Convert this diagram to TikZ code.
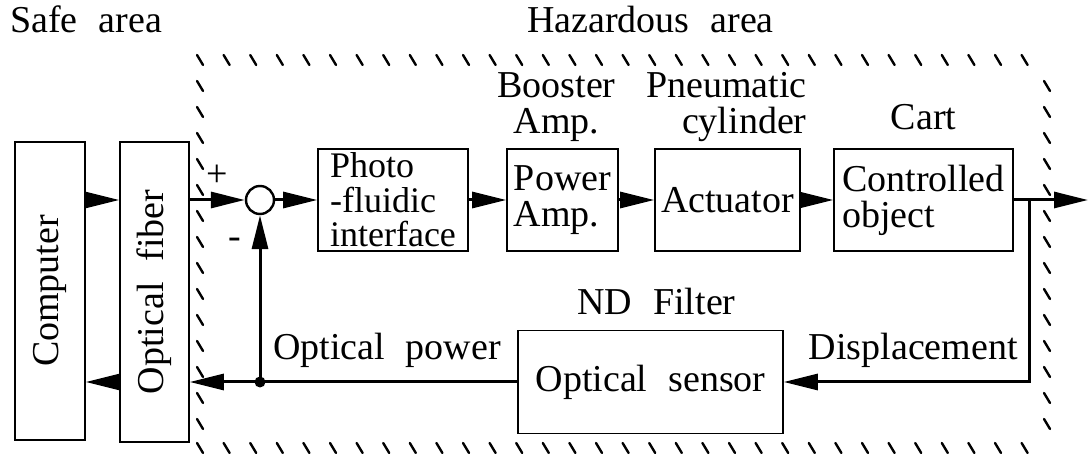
\documentclass[tikz,border=0pt]{standalone}
\usepackage{fontspec}
\setmainfont{Liberation Serif}
\usepackage{tikz}
\usetikzlibrary{arrows.meta}

\newcommand{\bigfont}{\fontsize{38}{36}\selectfont\spaceskip=0.55em\relax}
\newcommand{\tightfont}{\fontsize{36}{34.5}\selectfont}

\begin{document}
\begin{tikzpicture}[x=1pt,y=-1pt,font=\bigfont,
  >={Triangle[length=34pt,width=16pt]},
  blk/.style={draw,line width=1.6pt,inner sep=3pt,align=left},
  sig/.style={line width=3pt},
  hatch/.style={line width=2.4pt,line cap=round},
  lbl/.style={inner sep=0pt,align=center}]
\useasboundingbox (0,0) rectangle (1088,454);
% hazardous area boundary
\foreach \x in {200,226.6,...,1046} {
  \draw[hatch] (\x-3,55) -- (\x+3,65);
  \draw[hatch] (\x-3,443) -- (\x+3,453);
}
\foreach \y in {86,112,...,430} {
  \draw[hatch] (197,\y-5) -- (203,\y+5);
  \draw[hatch] (1044,\y-5) -- (1050,\y+5);
}
\node[lbl,anchor=base west] (safe) at (10,33) {Safe area};
\node[lbl,anchor=base west] (haz) at (527,33) {Hazardous area};
% blocks
\node[blk,align=center,minimum width=70,minimum height=298] (comp) at (50,291) {\rotatebox{90}{Computer}};
\node[blk,align=center,minimum width=69,minimum height=300] (fiber) at (154.5,292) {\rotatebox{90}{Optical fiber}};
\node[draw,circle,line width=2.4pt,minimum size=28,inner sep=0pt] (sum) at (260,200) {};
\node[blk,font=\tightfont,inner sep=0pt,minimum width=150,minimum height=102] (photo) at (393,200) {Photo\\-fluidic\\interface};
\node[blk,minimum width=111,minimum height=102] (pamp) at (562.5,200) {Power\\Amp.};
\node[blk,minimum width=145,minimum height=102] (act) at (727.5,200) {Actuator};
\node[blk,minimum width=179,minimum height=102] (plant) at (923.5,200) {Controlled\\object};
\node[blk,minimum width=265,minimum height=103] (sensor) at (650.5,382) {Optical sensor};
% labels above blocks
\node[lbl,anchor=south] at ([xshift=-6pt,yshift=6pt]pamp.north) {Booster\\Amp.};
\node[lbl,align=right,anchor=south east] at ([xshift=6pt,yshift=6pt]act.north east) {Pneumatic\\cylinder};
\node[lbl,anchor=south] at ([yshift=18pt]plant.north) {Cart};
\node[lbl,anchor=south] at ([xshift=6pt,yshift=15pt]sensor.north) {ND Filter};
% signal lines
\coordinate (jn) at (sum |- sensor.west);
\coordinate (brk) at (1029,200);
\coordinate (out) at (1088,200);
\coordinate (cnr) at (brk |- sensor.east);
\draw[sig,->] (comp.east |- sum) -- (fiber.west |- sum);
\draw[sig,->] (fiber.east |- sum) -- (sum.west);
\draw[sig,->] (sum.east) -- (photo.west);
\draw[sig,->] (photo.east) -- (pamp.west);
\draw[sig,->] (pamp.east) -- (act.west);
\draw[sig,->] (act.east) -- (plant.west);
\draw[sig,->] (plant.east) -- (out);
\draw[sig,->] (brk) -- (cnr) -- (sensor.east);
\draw[sig,->] (sensor.west) -- (fiber.east |- jn);
\draw[sig,->] (fiber.west |- jn) -- (comp.east |- jn);
\draw[sig,->] (jn) -- (sum.south);
\fill (jn) circle (5.5);
% signs and signal names
\node[lbl] at (217,176) {+};
\node[lbl] at (235,243) {-};
\node[lbl,anchor=base west] at ([xshift=13pt,yshift=22pt]jn) {Optical power};
\node[lbl,anchor=base east] at ([xshift=-11pt,yshift=22pt]cnr) {Displacement};
\end{tikzpicture}
\end{document}
